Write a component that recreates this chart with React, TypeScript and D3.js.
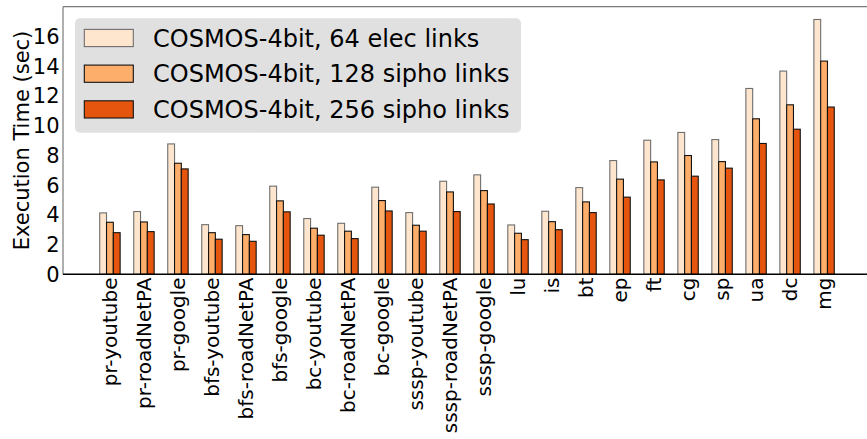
import React from "react";
import * as d3 from "d3";

const categories = [
  "pr-youtube", "pr-roadNetPA", "pr-google",
  "bfs-youtube", "bfs-roadNetPA", "bfs-google",
  "bc-youtube", "bc-roadNetPA", "bc-google",
  "sssp-youtube", "sssp-roadNetPA", "sssp-google",
  "lu", "is", "bt", "ep", "ft", "cg", "sp", "ua", "dc", "mg",
];

const seriesNames = [
  "COSMOS-4bit, 64 elec links",
  "COSMOS-4bit, 128 sipho links",
  "COSMOS-4bit, 256 sipho links",
];

const elec64 = [4.13, 4.22, 8.77, 3.34, 3.27, 5.93, 3.75, 3.43, 5.86, 4.15, 6.26, 6.69, 3.32, 4.24, 5.83, 7.65, 9.02, 9.54, 9.06, 12.5, 13.67, 17.14];
const sipho128 = [3.5, 3.52, 7.47, 2.8, 2.67, 4.94, 3.1, 2.9, 4.96, 3.3, 5.54, 5.63, 2.76, 3.54, 4.87, 6.4, 7.56, 7.99, 7.58, 10.46, 11.4, 14.34];
const sipho256 = [2.8, 2.87, 7.09, 2.36, 2.22, 4.2, 2.63, 2.4, 4.26, 2.9, 4.22, 4.73, 2.33, 3.0, 4.15, 5.19, 6.35, 6.6, 7.14, 8.8, 9.76, 11.25];

const yTicks = [0, 2, 4, 6, 8, 10, 12, 14, 16];

const series = [elec64, sipho128, sipho256];
const colors = ["#fee6ce", "#fdae6b", "#e6550d"];
const edges = ["#6e6e6e", "#111111", "#111111"];

const W = 867;
const H = 439;
const FONT = "DejaVu Sans, sans-serif";

export default function App() {
  const x = d3.scaleLinear().domain([-1.38, 22.38]).range([63, 871]);
  const y = d3.scaleLinear().domain([0, 18.0]).range([274.3, 6.7]);
  const barW = x(0.2) - x(0);
  const offsets = [-0.2, 0, 0.2];

  const legendX = 75;
  const legendY = 18.3;
  const legendW = 446;
  const legendH = 114.5;
  const rowGap = 35.7;

  return (
    <svg
      width={W}
      height={H}
      style={{ position: "absolute", left: 0, top: 0, background: "#fff" }}
      fontFamily={FONT}
    >
      {/* bars */}
      {series.map((vals, s) =>
        vals.map((v, i) => {
          const cx = x(i + offsets[s]);
          return (
            <rect
              key={`b-${s}-${i}`}
              x={cx - barW / 2}
              y={y(v)}
              width={barW}
              height={y(0) - y(v)}
              fill={colors[s]}
              stroke={edges[s]}
              strokeWidth={1.1}
            />
          );
        })
      )}

      {/* spines */}
      <line x1={63} x2={63} y1={6.7} y2={274.3} stroke="#7a7a7a" strokeWidth={1.2} />
      <line x1={63} x2={W} y1={6.7} y2={6.7} stroke="#7a7a7a" strokeWidth={1.2} />
      <line x1={63} x2={W} y1={274.3} y2={274.3} stroke="#000" strokeWidth={1.5} />

      {/* y ticks */}
      {yTicks.map((t) => (
        <text
          key={`yt-${t}`}
          x={59.5}
          y={y(t)}
          dy="0.36em"
          textAnchor="end"
          fontSize={21}
          fill="#000"
        >
          {t}
        </text>
      ))}

      {/* y label */}
      <text
        transform={`translate(21,${(6.7 + 274.3) / 2}) rotate(-90)`}
        textAnchor="middle"
        dy="0.36em"
        fontSize={21}
        fill="#000"
      >
        Execution Time (sec)
      </text>

      {/* x tick labels */}
      {categories.map((c, i) => (
        <text
          key={`xt-${c}`}
          transform={`translate(${x(i)},${277.5}) rotate(-90)`}
          textAnchor="end"
          dy="0.36em"
          fontSize={20}
          fill="#000"
        >
          {c}
        </text>
      ))}

      {/* legend */}
      <rect
        x={legendX}
        y={legendY}
        width={legendW}
        height={legendH}
        rx={5}
        ry={5}
        fill="#e0e0e0"
      />
      {seriesNames.map((n, s) => {
        const cy = 38 + s * rowGap;
        return (
          <g key={`lg-${s}`}>
            <rect
              x={84.3}
              y={cy - 8.6}
              width={49}
              height={17.2}
              fill={colors[s]}
              stroke={edges[s]}
              strokeWidth={1.1}
            />
            <text x={153} y={cy} dy="0.36em" fontSize={24} fill="#000">
              {n}
            </text>
          </g>
        );
      })}
    </svg>
  );
}
